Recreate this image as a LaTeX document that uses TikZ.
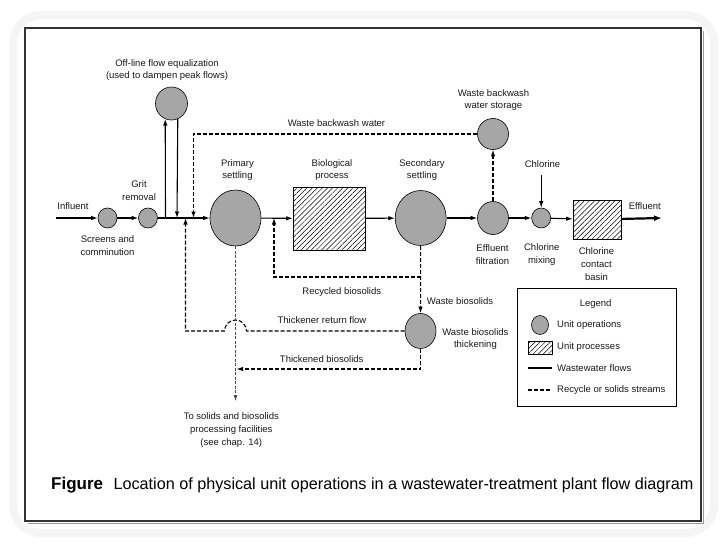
\documentclass[tikz,border=0pt]{standalone}
\usepackage{fontspec}
\setmainfont{Liberation Sans}
\usetikzlibrary{arrows.meta,patterns.meta,shapes.geometric,positioning}

\begin{document}
\begin{tikzpicture}[x=1pt,y=1pt,
    unitop/.style={ellipse,draw=black,line width=0.6pt,fill=black!35,inner sep=0pt},
    unitproc/.style={rectangle,draw=black,line width=0.6pt,inner sep=0pt,
        pattern={Lines[angle=45,distance=3.6pt,line width=0.5pt]}},
    flow/.style={line width=1.1pt,-{Latex[length=6.5pt,width=4.5pt]}},
    recyc/.style={line width=1.1pt,dash pattern=on 4pt off 2pt,-{Latex[length=6.5pt,width=4.5pt]}},
    tosolids/.style={line width=0.7pt,black!70,dash pattern=on 3pt off 1.5pt,-{Latex[length=6pt,width=4pt]}},
    lbl/.style={font=\fontsize{9.5}{12.8}\selectfont,align=center,text=black!90,inner sep=0pt}]
    \useasboundingbox (0,0) rectangle (728,-546);
    \fill[white] (0,0) rectangle (728,-546);
    % soft halo and frame
    \draw[black!4,line width=8pt,rounded corners=28pt] (13,-15) rectangle (714,-533);
    \draw[black!40,line width=1.5pt] (28,-523.5) -- (703.5,-523.5) -- (703.5,-31);
    \draw[black!80,line width=2.5pt] (25,-28) rectangle (701,-521);

    % unit operations and processes
    \node[unitop,minimum width=19pt,minimum height=20pt] (scr) at (107.5,-218) {};
    \node[unitop,minimum width=19pt,minimum height=20pt] (grit) at (148,-218) {};
    \node[unitop,minimum width=32pt,minimum height=33pt] (eq) at (171.5,-103.5) {};
    \node[unitop,minimum width=51pt,minimum height=56pt] (prim) at (235.5,-218) {};
    \node[unitproc,minimum width=72pt,minimum height=63pt] (bio) at (329,-218.5) {};
    \node[unitop,minimum width=51pt,minimum height=55pt] (sec) at (420.7,-218) {};
    \node[unitop,minimum width=31pt,minimum height=33pt] (filt) at (493,-218) {};
    \node[unitop,minimum width=31pt,minimum height=31pt] (store) at (493,-134) {};
    \node[unitop,minimum width=19pt,minimum height=20pt] (mix) at (541.2,-218) {};
    \node[unitproc,minimum width=48pt,minimum height=39pt] (basin) at (597,-219.5) {};
    \node[unitop,minimum width=31pt,minimum height=35pt] (thick) at (420.5,-331) {};

    % labels
    \node[lbl] (inflbl) at (73,-206) {Influent};
    \node[lbl] (scrlbl) at (107.5,-246) {Screens and\\comminution};
    \node[lbl] (gritlbl) at (139,-190.5) {Grit\\removal};
    \node[lbl] (eqlbl) at (167,-70) {Off-line flow equalization\\(used to dampen peak flows)};
    \node[lbl] (primlbl) at (237.5,-170) {Primary\\settling};
    \node[lbl] (biolbl) at (332,-170) {Biological\\process};
    \node[lbl] (seclbl) at (422,-170) {Secondary\\settling};
    \node[lbl] (storelbl) at (493.5,-100) {Waste backwash\\water storage};
    \node[lbl] (bwlbl) at (336.5,-123) {Waste backwash water};
    \node[lbl] (cllbl) at (542.5,-164.5) {Chlorine};
    \node[lbl] (filtlbl) at (492.5,-254.5) {Effluent\\filtration};
    \node[lbl] (mixlbl) at (541.8,-254.5) {Chlorine\\mixing};
    \node[lbl] (basinlbl) at (596.5,-264) {Chlorine\\contact\\basin};
    \node[lbl] (efflbl) at (644.8,-206) {Effluent};
    \node[lbl] (reclbl) at (341.8,-292) {Recycled biosolids};
    \node[lbl] (wblbl) at (460,-300.7) {Waste biosolids};
    \node[lbl] (thicklbl) at (475.4,-339) {Waste biosolids\\thickening};
    \node[lbl] (retlbl) at (322,-320) {Thickener return flow};
    \node[lbl] (tbslbl) at (321.7,-358.7) {Thickened biosolids};
    \node[lbl] (solidslbl) at (231.3,-430) {To solids and biosolids\\processing facilities\\(see chap. 14)};

    % junctions and bends
    \coordinate (in) at (56,-218);
    \coordinate (out) at (662,-218);
    \coordinate (j1) at (165.5,-218);
    \coordinate (j2) at (177,-218);
    \coordinate (j3) at (185.5,-218);
    \coordinate (j4) at (193.5,-218);
    \coordinate (j5) at (274,-218);
    \coordinate (bwc) at (193.5,-134);
    \coordinate (recc) at (420.7,-277);
    \coordinate (humpr) at (246.5,-331);
    \coordinate (retc) at (185.5,-331);
    \coordinate (tbsc) at (420.5,-369);
    \coordinate (tbsend) at (236.5,-369);
    \coordinate (solend) at (235.5,-401);
    \coordinate (clin) at (541.2,-175);

    % wastewater flows
    \draw[flow] (in) -- (scr);
    \draw[flow] (scr) -- (grit);
    \draw[flow] (grit) -- (prim);
    \draw[flow] (prim) -- (bio);
    \draw[flow] (bio) -- (sec);
    \draw[flow] (sec) -- (filt);
    \draw[flow] (filt) -- (mix);
    \draw[flow] (mix) -- (basin);
    \draw[line width=2.2pt,-{Latex[length=8pt,width=6pt]}] (basin) -- (out);
    \draw[flow] (j1) -- (eq.248);
    \draw[flow] (eq.292) -- (j2);
    \draw[flow,line width=0.8pt] (clin) -- (mix);

    % recycle and solids streams
    \draw[recyc] (filt) -- (store);
    \draw[recyc] (store) -- (bwc) -- (j4);
    \draw[recyc] (sec) -- (thick);
    \draw[recyc] (recc) -| (j5);
    \draw[recyc] (thick) -- (humpr) arc (0:180:11) -- (retc) -- (j3);
    \draw[recyc] (thick.south) -- (tbsc) -- (tbsend);
    \draw[tosolids] (prim.south) -- (solend);

    % legend
    \node[draw,line width=0.9pt,minimum width=159pt,minimum height=118pt] (leg) at (596.5,-347) {};
    \node[lbl] (legt) at (595.6,-304) {Legend};
    \node[unitop,minimum width=17pt,minimum height=19pt] (legop) at (540,-325) {};
    \node[lbl,anchor=west] (legoplbl) at (557,-325) {Unit operations};
    \node[unitproc,minimum width=24.5pt,minimum height=13pt] (legproc) at (540.3,-347.5) {};
    \node[lbl,anchor=west] (legproclbl) at (557,-347.5) {Unit processes};
    \coordinate (legw1) at (528,-368);
    \coordinate (legw2) at (551.5,-368);
    \coordinate (legr1) at (528,-390);
    \coordinate (legr2) at (551.5,-390);
    \draw[line width=1.1pt] (legw1) -- (legw2);
    \draw[line width=1.1pt,dash pattern=on 4pt off 2pt] (legr1) -- (legr2);
    \node[lbl,anchor=west] (legwlbl) at (557,-368) {Wastewater flows};
    \node[lbl,anchor=west] (legrlbl) at (557,-390) {Recycle or solids streams};

    % caption
    \node[anchor=west,inner sep=0pt,font=\bfseries\fontsize{17}{19}\selectfont] (figw) at (51,-485) {Figure};
    \node[right=10pt of figw,inner sep=0pt,font=\fontsize{16.2}{18}\selectfont] (capt) {Location of physical unit operations in a wastewater-treatment plant flow diagram};
\end{tikzpicture}
\end{document}
